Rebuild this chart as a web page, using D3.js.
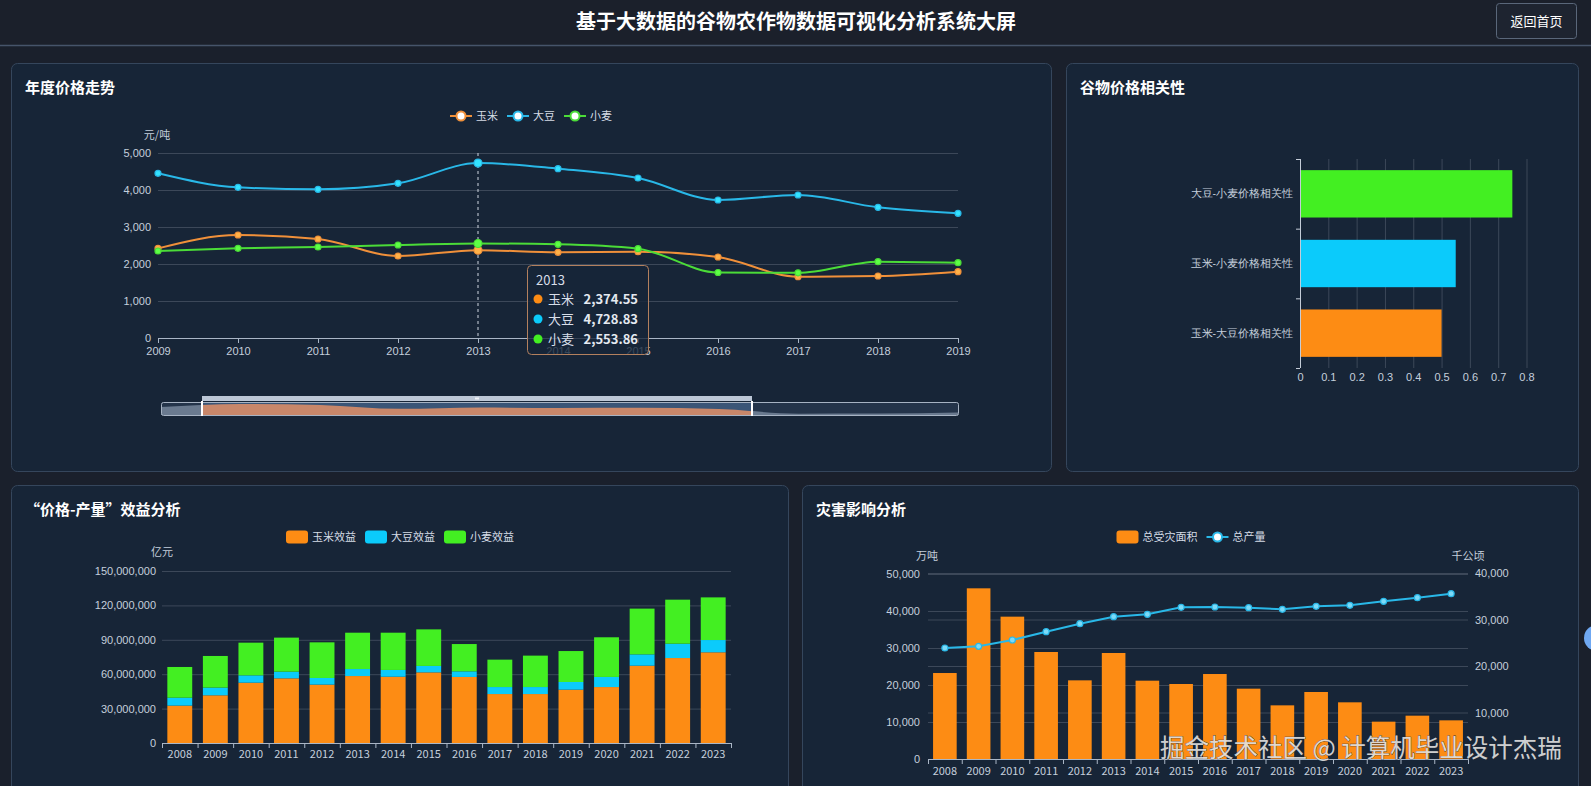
<!DOCTYPE html>
<html>
<head>
<meta charset="utf-8">
<script src="https://cdn.jsdelivr.net/npm/d3@7"></script>
<style>
    body { margin: 0; background: #1a202c; overflow: hidden; }
    svg { display: block; font-family: "Noto Sans CJK SC", "Noto Sans", sans-serif; }
</style>
</head>
<body>
<svg id="screen"></svg>
<script>
/*--------------------------------------------------------------------------------
----- DATA
--------------------------------------------------------------------------------*/

// Yearly prices (元/吨) for the line chart
const price_years = [2009, 2010, 2011, 2012, 2013, 2014, 2015, 2016, 2017, 2018, 2019];
const corn_price = [2423, 2784, 2676, 2216, 2374.55, 2315, 2333, 2189, 1658, 1676, 1793];
const soy_price = [4451, 4072, 4018, 4180, 4728.83, 4577, 4324, 3730, 3865, 3532, 3369];
const wheat_price = [2351, 2423, 2459, 2513, 2553.86, 2532, 2414, 1770, 1762, 2063, 2036];
const price_ticks = [0, 1000, 2000, 3000, 4000, 5000];
const tooltip_year = 2013;

// Price correlations for the horizontal bar chart
const corr_names = ["玉米-大豆价格相关性", "玉米-小麦价格相关性", "大豆-小麦价格相关性"];
const corr_values = [0.5, 0.55, 0.75];
const corr_ticks = [0, 0.1, 0.2, 0.3, 0.4, 0.5, 0.6, 0.7, 0.8];

// "价格-产量" benefit for the stacked bar chart
const benefit_years = [2008, 2009, 2010, 2011, 2012, 2013, 2014, 2015, 2016, 2017, 2018, 2019, 2020, 2021, 2022, 2023];
const corn_benefit = [32600000, 41600000, 52600000, 56400000, 50900000, 58400000, 57800000, 61600000, 57600000, 42700000, 42700000, 46500000, 48800000, 67400000, 74100000, 79100000];
const soy_benefit = [6900000, 6700000, 6400000, 5800000, 5800000, 6100000, 5900000, 5600000, 4900000, 6100000, 6100000, 6700000, 8800000, 9900000, 12500000, 10700000];
const wheat_benefit = [26800000, 27600000, 28500000, 29700000, 31100000, 31700000, 32500000, 31900000, 23800000, 23900000, 27400000, 27000000, 34600000, 39900000, 38400000, 37200000];
const benefit_ticks = [0, 30000000, 60000000, 90000000, 120000000, 150000000];

// Disaster impact: affected area (bars) and total output (line)
const disaster_years = [2008, 2009, 2010, 2011, 2012, 2013, 2014, 2015, 2016, 2017, 2018, 2019, 2020, 2021, 2022, 2023];
const disaster_area = [23240, 46130, 38470, 28920, 21260, 28650, 21170, 20270, 22970, 19010, 14500, 18110, 15320, 10090, 11710, 10450];
const total_output = [23870, 24230, 25590, 27380, 29100, 30610, 31110, 32620, 32690, 32550, 32190, 32830, 33050, 33910, 34700, 35560];
const disaster_left_ticks = [0, 10000, 20000, 30000, 40000, 50000];
const disaster_right_ticks = [0, 10000, 20000, 30000, 40000];

/*--------------------------------------------------------------------------------
----- GENERAL LAYOUT
--------------------------------------------------------------------------------*/

const c_orange = "#fd8c14", c_blue = "#0bcbfb", c_green = "#43ef22";
const l_orange = "#f0903a", l_blue = "#29b8e8", l_green = "#4bdc38";
const label_color = "#c5cfdc", grid_color = "#3c4859", axis_color = "#aab6c6";

const svg = d3.select("#screen").attr("width", 1591).attr("height", 786);

svg.append("rect").attr("width", 1591).attr("height", 786).attr("fill", "#1a202c");

// Header bar with the title and the back button
svg.append("rect").attr("width", 1591).attr("height", 45).attr("fill", "#1b202b");
svg.append("line").attr("x1", 0).attr("x2", 1591).attr("y1", 45.5).attr("y2", 45.5)
    .attr("stroke", "#46546a").attr("stroke-width", 1.5);
svg.append("text").attr("x", 796).attr("y", 22).attr("dy", "0.35em")
    .attr("text-anchor", "middle").attr("fill", "#fff")
    .attr("font-size", 20).attr("font-weight", "bold")
    .text("基于大数据的谷物农作物数据可视化分析系统大屏");
svg.append("rect").attr("x", 1496.5).attr("y", 3.5).attr("width", 80).attr("height", 35).attr("rx", 3)
    .attr("fill", "#1e2430").attr("stroke", "#5a677a");
svg.append("text").attr("x", 1536.5).attr("y", 21).attr("dy", "0.35em")
    .attr("text-anchor", "middle").attr("fill", "#fff").attr("font-size", 13).text("返回首页");

// Panels and their titles
const panels = [
    { x: 11, y: 63, w: 1040, h: 408, title: "年度价格走势" },
    { x: 1066, y: 63, w: 512, h: 408, title: "谷物价格相关性" },
    { x: 11, y: 485, w: 777, h: 330, title: "“价格-产量”效益分析" },
    { x: 802, y: 485, w: 776, h: 330, title: "灾害影响分析" }
];
panels.forEach(p => {
    svg.append("rect").attr("x", p.x + 0.5).attr("y", p.y + 0.5).attr("width", p.w).attr("height", p.h)
        .attr("rx", 6).attr("fill", "#172537").attr("stroke", "#35465c");
    svg.append("text").attr("x", p.x + 14).attr("y", p.y + 25).attr("dy", "0.35em")
        .attr("fill", "#fff").attr("font-size", 15).attr("font-weight", "bold").text(p.title);
});

// Function to draw a centered legend row
function draw_legend(cx, cy, items) {
    const g = svg.append("g");
    let x = 0;
    items.forEach(item => {
        const it = g.append("g").attr("transform", `translate(${x},0)`);
        if (item.type === "line") {
            it.append("line").attr("x1", 0).attr("x2", 22).attr("stroke", item.color).attr("stroke-width", 2);
            it.append("circle").attr("cx", 11).attr("r", 4.5).attr("fill", "#fff")
                .attr("stroke", item.color).attr("stroke-width", 2);
        } else {
            it.append("rect").attr("y", -6.5).attr("width", 22).attr("height", 13).attr("rx", 3).attr("fill", item.color);
        }
        const t = it.append("text").attr("x", 26).attr("dy", "0.35em")
            .attr("fill", "#d5dce6").attr("font-size", 11).text(item.name);
        x += 26 + t.node().getComputedTextLength() + 9;
    });
    g.attr("transform", `translate(${cx - (x - 9) / 2},${cy})`);
}

// Function to style an axis group
function style_axis(g, grid) {
    g.selectAll("text").attr("fill", label_color).attr("font-size", 11);
    g.selectAll(".tick line").attr("stroke", grid ? grid_color : axis_color);
    g.select(".domain").remove();
}

/*--------------------------------------------------------------------------------
----- LINE CHART (yearly prices)
--------------------------------------------------------------------------------*/

const line_left = 158, line_right = 958, line_top = 153, line_bottom = 338;
const line_x_scale = d3.scalePoint().domain(price_years).range([line_left, line_right]);
const line_y_scale = d3.scaleLinear().domain([0, 5000]).range([line_bottom, line_top]);

svg.append("g").attr("transform", `translate(${line_left},0)`)
    .call(d3.axisLeft(line_y_scale).tickValues(price_ticks).tickFormat(d3.format(","))
        .tickSize(-(line_right - line_left)).tickPadding(7))
    .call(g => style_axis(g, true));

svg.append("g").attr("transform", `translate(0,${line_bottom})`)
    .call(d3.axisBottom(line_x_scale).tickSize(5).tickSizeOuter(0).tickPadding(4))
    .call(g => {
        g.select(".domain").attr("stroke", axis_color).attr("d", `M${line_left},0.5H${line_right}`);
        g.selectAll(".tick line").attr("stroke", axis_color);
        g.selectAll("text").attr("fill", label_color).attr("font-size", 11);
    });

svg.append("text").attr("x", 157).attr("y", 135).attr("dy", "0.35em").attr("text-anchor", "middle")
    .attr("fill", label_color).attr("font-size", 11).text("元/吨");

// Axis pointer of the hovered year
svg.append("line")
    .attr("x1", line_x_scale(tooltip_year)).attr("x2", line_x_scale(tooltip_year))
    .attr("y1", line_top).attr("y2", line_bottom)
    .attr("stroke", "#cfd6e0").attr("stroke-dasharray", "3,3");

const price_series = [
    { name: "玉米", values: corn_price, color: l_orange, dot: c_orange },
    { name: "大豆", values: soy_price, color: l_blue, dot: c_blue },
    { name: "小麦", values: wheat_price, color: l_green, dot: c_green }
];

const line_chart_line = d3.line()
    .x((d, i) => line_x_scale(price_years[i]))
    .y(d => line_y_scale(d))
    .curve(d3.curveMonotoneX);

price_series.forEach(s => {
    svg.append("path").datum(s.values)
        .attr("d", line_chart_line).attr("fill", "none")
        .attr("stroke", s.color).attr("stroke-width", 2);
    svg.append("g").selectAll("circle").data(s.values).enter().append("circle")
        .attr("cx", (d, i) => line_x_scale(price_years[i]))
        .attr("cy", d => line_y_scale(d))
        .attr("r", (d, i) => price_years[i] === tooltip_year ? 4 : 3)
        .attr("fill", d3.color(s.color).brighter(0.6))
        .attr("stroke", s.color).attr("stroke-width", 1.2);
});

draw_legend(531, 116, price_series.map(s => ({ name: s.name, color: s.color, type: "line" })));

// Data zoom slider under the chart
const zoom_left = 161, zoom_right = 958, zoom_top = 402, zoom_bottom = 415;
const zoom_start = 202, zoom_end = 752;
const zoom_x_scale = d3.scalePoint().domain(price_years).range([zoom_left, zoom_right]);
const zoom_y_scale = d3.scaleLinear().domain([1500, 2900]).range([zoom_bottom, zoom_top + 1]);
const zoom_area = d3.area()
    .x((d, i) => zoom_x_scale(price_years[i]))
    .y0(zoom_bottom).y1(d => zoom_y_scale(d))
    .curve(d3.curveMonotoneX);

const defs = svg.append("defs");
defs.append("clipPath").attr("id", "zoom-clip").append("rect")
    .attr("x", zoom_start).attr("y", zoom_top).attr("width", zoom_end - zoom_start).attr("height", zoom_bottom - zoom_top);

svg.append("rect").attr("x", zoom_left).attr("y", zoom_top).attr("width", zoom_right - zoom_left)
    .attr("height", zoom_bottom - zoom_top).attr("rx", 2).attr("fill", "#24344a");
svg.append("path").datum(corn_price).attr("d", zoom_area).attr("fill", "#8292a7").attr("opacity", 0.75);
svg.append("rect").attr("x", zoom_start).attr("y", zoom_top).attr("width", zoom_end - zoom_start)
    .attr("height", zoom_bottom - zoom_top).attr("fill", "#3a5577");
svg.append("path").datum(corn_price).attr("d", zoom_area).attr("fill", "#c8876a")
    .attr("clip-path", "url(#zoom-clip)");
svg.append("rect").attr("x", zoom_left + 0.5).attr("y", zoom_top + 0.5).attr("width", zoom_right - zoom_left)
    .attr("height", zoom_bottom - zoom_top).attr("rx", 2).attr("fill", "none").attr("stroke", "#a7b3c3");
svg.append("rect").attr("x", zoom_start).attr("y", zoom_top - 6).attr("width", zoom_end - zoom_start)
    .attr("height", 5).attr("fill", "#bcc7d6");
svg.append("rect").attr("x", (zoom_start + zoom_end) / 2 - 2).attr("y", zoom_top - 4.5)
    .attr("width", 4).attr("height", 2).attr("fill", "#eef2f6");
[zoom_start, zoom_end].forEach(x => {
    svg.append("line").attr("x1", x).attr("x2", x).attr("y1", zoom_top - 1).attr("y2", zoom_bottom + 1)
        .attr("stroke", "#fff").attr("stroke-width", 2);
});

// Tooltip for the hovered year (slightly see-through, like the original)
const tip_index = price_years.indexOf(tooltip_year);
const tip = svg.append("g").attr("transform", "translate(527,265)");
tip.append("rect").attr("x", 0.5).attr("y", 0.5).attr("width", 121).attr("height", 89).attr("rx", 4)
    .attr("fill", "#172538").attr("fill-opacity", 0.8).attr("stroke", "#b3805e");
tip.append("text").attr("x", 9).attr("y", 15).attr("dy", "0.35em")
    .attr("fill", "#d8dee8").attr("font-size", 13).text(tooltip_year);
price_series.forEach((s, i) => {
    const row_y = 34 + i * 20;
    tip.append("circle").attr("cx", 11).attr("cy", row_y).attr("r", 4.5).attr("fill", s.dot);
    tip.append("text").attr("x", 21).attr("y", row_y).attr("dy", "0.35em")
        .attr("fill", "#d8dee8").attr("font-size", 13).text(s.name);
    tip.append("text").attr("x", 111).attr("y", row_y).attr("dy", "0.35em").attr("text-anchor", "end")
        .attr("fill", "#e4e9f0").attr("font-size", 13).attr("font-weight", "bold")
        .text(d3.format(",.2f")(s.values[tip_index]));
});

/*--------------------------------------------------------------------------------
----- HORIZONTAL BAR CHART (price correlations)
--------------------------------------------------------------------------------*/

const corr_left = 1300, corr_right = 1526.5, corr_top = 159, corr_bottom = 368;
const corr_x_scale = d3.scaleLinear().domain([0, 0.8]).range([corr_left, corr_right]);
const corr_y_scale = d3.scaleBand().domain(corr_names).range([corr_bottom, corr_top])
    .paddingInner(0.32).paddingOuter(0.16);
const corr_colors = [c_orange, c_blue, c_green];

svg.append("g").attr("transform", `translate(0,${corr_bottom})`)
    .call(d3.axisBottom(corr_x_scale).tickValues(corr_ticks).tickFormat(d3.format("~g"))
        .tickSize(-(corr_bottom - corr_top)).tickPadding(5))
    .call(g => style_axis(g, true));

svg.append("g").selectAll("rect").data(corr_values).enter().append("rect")
    .attr("x", corr_left)
    .attr("y", (d, i) => corr_y_scale(corr_names[i]))
    .attr("width", d => corr_x_scale(d) - corr_left)
    .attr("height", corr_y_scale.bandwidth())
    .attr("fill", (d, i) => corr_colors[i]);

svg.append("g").attr("transform", `translate(${corr_left},0)`)
    .call(d3.axisLeft(corr_y_scale).tickSize(0).tickPadding(7))
    .call(g => {
        style_axis(g, false);
        g.selectAll("text").attr("font-size", 10.5);
    });

// Y axis line with ticks on the band edges
const corr_pad = corr_y_scale.paddingOuter() * corr_y_scale.step();
const corr_edges = corr_names.map(n => corr_y_scale(n) - corr_pad).concat([corr_bottom]);
svg.append("line").attr("x1", corr_left + 0.5).attr("x2", corr_left + 0.5)
    .attr("y1", corr_top).attr("y2", corr_bottom).attr("stroke", "#c4ccd8");
svg.append("g").selectAll("line").data(corr_edges).enter().append("line")
    .attr("x1", corr_left - 4).attr("x2", corr_left).attr("y1", d => d + 0.5).attr("y2", d => d + 0.5)
    .attr("stroke", "#c4ccd8");

/*--------------------------------------------------------------------------------
----- STACKED BAR CHART (benefit per crop)
--------------------------------------------------------------------------------*/

const ben_left = 162, ben_right = 731, ben_top = 571, ben_bottom = 743;
const ben_x_scale = d3.scaleBand().domain(benefit_years).range([ben_left, ben_right])
    .paddingInner(0.3).paddingOuter(0.15);
const ben_y_scale = d3.scaleLinear().domain([0, 150000000]).range([ben_bottom, ben_top]);

svg.append("g").attr("transform", `translate(${ben_left},0)`)
    .call(d3.axisLeft(ben_y_scale).tickValues(benefit_ticks).tickFormat(d3.format(","))
        .tickSize(-(ben_right - ben_left)).tickPadding(6))
    .call(g => style_axis(g, true));

const benefit_rows = benefit_years.map((year, i) => ({
    year: year, corn: corn_benefit[i], soy: soy_benefit[i], wheat: wheat_benefit[i]
}));
const benefit_stack = d3.stack().keys(["corn", "soy", "wheat"])(benefit_rows);
const benefit_colors = { corn: c_orange, soy: c_blue, wheat: c_green };

benefit_stack.forEach(layer => {
    svg.append("g").selectAll("rect").data(layer).enter().append("rect")
        .attr("x", d => ben_x_scale(d.data.year))
        .attr("y", d => ben_y_scale(d[1]))
        .attr("width", ben_x_scale.bandwidth())
        .attr("height", d => ben_y_scale(d[0]) - ben_y_scale(d[1]))
        .attr("fill", benefit_colors[layer.key]);
});

// Function to draw a category axis with ticks on the band edges
function draw_band_axis(scale, y, label_y) {
    const pad = scale.paddingOuter() * scale.step();
    const edges = scale.domain().map(d => scale(d) - pad).concat([scale.range()[1]]);
    const g = svg.append("g");
    g.append("line").attr("x1", scale.range()[0]).attr("x2", scale.range()[1])
        .attr("y1", y + 0.5).attr("y2", y + 0.5).attr("stroke", axis_color);
    g.selectAll(".edge").data(edges).enter().append("line")
        .attr("x1", d => d + 0.5).attr("x2", d => d + 0.5).attr("y1", y).attr("y2", y + 5)
        .attr("stroke", axis_color);
    g.selectAll("text").data(scale.domain()).enter().append("text")
        .attr("x", d => scale(d) + scale.bandwidth() / 2).attr("y", label_y).attr("dy", "0.35em")
        .attr("text-anchor", "middle").attr("fill", label_color).attr("font-size", 11).text(d => d);
}

draw_band_axis(ben_x_scale, ben_bottom, 754);

svg.append("text").attr("x", 162).attr("y", 552).attr("dy", "0.35em").attr("text-anchor", "middle")
    .attr("fill", label_color).attr("font-size", 11).text("亿元");

draw_legend(400, 537, [
    { name: "玉米效益", color: c_orange, type: "rect" },
    { name: "大豆效益", color: c_blue, type: "rect" },
    { name: "小麦效益", color: c_green, type: "rect" }
]);

/*--------------------------------------------------------------------------------
----- BAR + LINE CHART (disaster impact)
--------------------------------------------------------------------------------*/

const dis_left = 928, dis_right = 1468, dis_top = 574, dis_bottom = 759;
const dis_x_scale = d3.scaleBand().domain(disaster_years).range([dis_left, dis_right])
    .paddingInner(0.3).paddingOuter(0.15);
const dis_y_left = d3.scaleLinear().domain([0, 50000]).range([dis_bottom, dis_top]);
const dis_y_right = d3.scaleLinear().domain([0, 40000]).range([dis_bottom, dis_top - 1]);

svg.append("g").attr("transform", `translate(${dis_left},0)`)
    .call(d3.axisLeft(dis_y_left).tickValues(disaster_left_ticks).tickFormat(d3.format(","))
        .tickSize(-(dis_right - dis_left)).tickPadding(8))
    .call(g => style_axis(g, true));

svg.append("g").attr("transform", `translate(${dis_right},0)`)
    .call(d3.axisRight(dis_y_right).tickValues(disaster_right_ticks).tickFormat(d3.format(","))
        .tickSize(-(dis_right - dis_left)).tickPadding(7))
    .call(g => {
        style_axis(g, true);
        g.selectAll(".tick").filter(d => d === 0).select("text").remove();
    });

svg.append("g").selectAll("rect").data(disaster_area).enter().append("rect")
    .attr("x", (d, i) => dis_x_scale(disaster_years[i]))
    .attr("y", d => dis_y_left(d))
    .attr("width", dis_x_scale.bandwidth())
    .attr("height", d => dis_bottom - dis_y_left(d))
    .attr("fill", c_orange);

const output_line = d3.line()
    .x((d, i) => dis_x_scale(disaster_years[i]) + dis_x_scale.bandwidth() / 2)
    .y(d => dis_y_right(d));

svg.append("path").datum(total_output).attr("d", output_line)
    .attr("fill", "none").attr("stroke", l_blue).attr("stroke-width", 2);
svg.append("g").selectAll("circle").data(total_output).enter().append("circle")
    .attr("cx", (d, i) => dis_x_scale(disaster_years[i]) + dis_x_scale.bandwidth() / 2)
    .attr("cy", d => dis_y_right(d))
    .attr("r", 3).attr("fill", "#7ddaf7").attr("stroke", l_blue).attr("stroke-width", 1.2);

draw_band_axis(dis_x_scale, dis_bottom, 771);

svg.append("text").attr("x", 927).attr("y", 556).attr("dy", "0.35em").attr("text-anchor", "middle")
    .attr("fill", label_color).attr("font-size", 11).text("万吨");
svg.append("text").attr("x", 1468).attr("y", 556).attr("dy", "0.35em").attr("text-anchor", "middle")
    .attr("fill", label_color).attr("font-size", 11).text("千公顷");

draw_legend(1191, 537, [
    { name: "总受灾面积", color: c_orange, type: "rect" },
    { name: "总产量", color: l_blue, type: "line" }
]);

/*--------------------------------------------------------------------------------
----- OVERLAYS
--------------------------------------------------------------------------------*/

svg.append("circle").attr("cx", 1597).attr("cy", 638).attr("r", 13).attr("fill", "#6fa8f2");

svg.append("text").attr("x", 1160).attr("y", 748).attr("dy", "0.35em")
    .attr("fill", "#e6e6e6").attr("fill-opacity", 0.9)
    .attr("stroke", "#2a2f38").attr("stroke-width", 0.6).attr("paint-order", "stroke")
    .attr("font-size", 24.5).text("掘金技术社区 @ 计算机毕业设计杰瑞");
</script>
</body>
</html>
